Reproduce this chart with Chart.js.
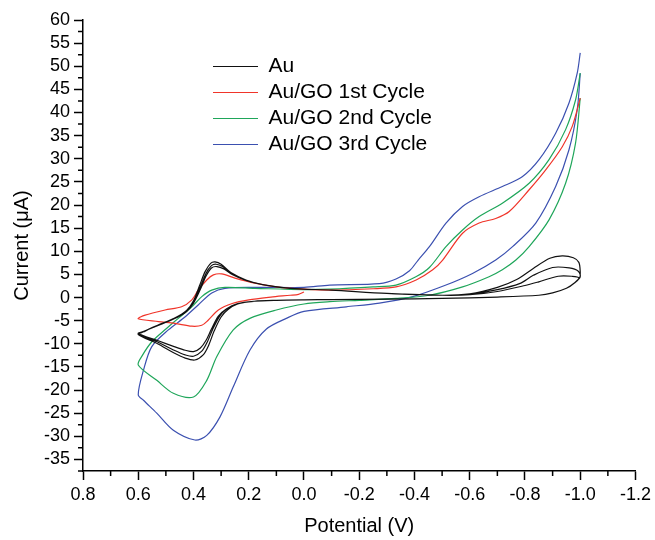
<!DOCTYPE html>
<html>
<head>
<meta charset="utf-8">
<script src="https://cdn.jsdelivr.net/npm/chart.js@4.4.1/dist/chart.umd.min.js"></script>
<style>
  html, body { margin: 0; padding: 0; background: #fff; }
  #wrap { width: 655px; height: 540px; }
</style>
</head>
<body>
<div id="wrap"><canvas id="cv"></canvas></div>
<script>
// Au, three cycles (potential in V, current in uA)
const au1V = [0.0, 0.1, 0.18, 0.24, 0.28, 0.31, 0.335, 0.355, 0.375, 0.40, 0.43, 0.47, 0.53, 0.6,
  0.58, 0.53, 0.47, 0.425, 0.40, 0.375, 0.355, 0.335, 0.315, 0.29, 0.26, 0.21, 0.15, 0.05, -0.1, -0.3, -0.5,
  -0.6, -0.7, -0.8, -0.85, -0.92, -0.97, -0.995, -0.98, -0.95, -0.9, -0.85, -0.7, -0.5, -0.3, -0.1];
const au1I = [-0.5, -0.6, -0.8, -1.3, -2.4, -4.0, -6.8, -9.3, -10.9, -11.7, -11.4, -10.6, -9.3, -7.8,
  -7.3, -6.1, -4.6, -3.0, -1.2, 1.8, 4.6, 6.4, 6.7, 6.2, 5.0, 3.7, 2.8, 2.0, 1.6, 0.9, 0.5,
  0.6, 1.3, 2.6, 3.4, 4.6, 4.6, 4.3, 3.2, 2.0, 1.0, 0.5, 0.1, -0.2, -0.35, -0.45];

const au2V = [0.0, 0.1, 0.18, 0.24, 0.28, 0.305, 0.33, 0.35, 0.37, 0.40, 0.43, 0.47, 0.53, 0.6,
  0.58, 0.53, 0.47, 0.425, 0.40, 0.375, 0.355, 0.335, 0.318, 0.295, 0.26, 0.21, 0.15, 0.05, -0.1, -0.3, -0.5,
  -0.6, -0.7, -0.78, -0.83, -0.9, -0.96, -0.993, -1.0, -0.98, -0.95, -0.9, -0.85, -0.7, -0.5, -0.3, -0.1];
const au2I = [-0.5, -0.6, -0.8, -1.3, -2.5, -4.0, -6.8, -9.6, -11.6, -12.7, -12.4, -11.4, -9.6, -7.9,
  -7.3, -6.0, -4.5, -2.9, -0.9, 2.3, 5.2, 6.9, 7.2, 6.7, 5.2, 3.8, 2.8, 2.0, 1.6, 0.9, 0.5,
  0.7, 1.7, 3.0, 4.8, 6.5, 6.4, 5.7, 4.5, 3.2, 2.0, 1.0, 0.5, 0.1, -0.2, -0.35, -0.45];

const au3V = [0.0, 0.1, 0.18, 0.24, 0.275, 0.30, 0.325, 0.345, 0.365, 0.395, 0.43, 0.47, 0.53, 0.6,
  0.58, 0.53, 0.47, 0.425, 0.40, 0.378, 0.358, 0.338, 0.322, 0.30, 0.265, 0.21, 0.15, 0.05, -0.1, -0.3, -0.5,
  -0.6, -0.7, -0.77, -0.83, -0.89, -0.935, -0.975, -0.995, -1.0, -0.998, -0.98, -0.95, -0.9, -0.85, -0.7, -0.5, -0.3, -0.1, 0.0];
const au3I = [-0.5, -0.6, -0.8, -1.4, -2.6, -4.2, -7.2, -10.3, -12.4, -13.5, -13.1, -12.0, -10.0, -8.0,
  -7.4, -6.0, -4.5, -2.8, -0.7, 2.6, 5.6, 7.4, 7.7, 7.2, 5.4, 3.8, 2.8, 2.0, 1.6, 0.9, 0.5,
  0.8, 2.2, 3.9, 6.3, 8.5, 9.0, 8.6, 7.6, 5.5, 4.3, 3.2, 2.0, 1.0, 0.5, 0.1, -0.2, -0.35, -0.45, -0.5];

// Au/GO 1st cycle
const go1V = [0.0, 0.02, 0.05, 0.12, 0.2, 0.26, 0.31, 0.347, 0.37, 0.406, 0.467, 0.527, 0.6,
  0.575, 0.503, 0.443, 0.406, 0.383, 0.352, 0.328, 0.298, 0.25, 0.178, 0.1, 0.0, -0.1, -0.25, -0.333,
  -0.406, -0.466, -0.502, -0.574, -0.634, -0.694, -0.743, -0.815, -0.875, -0.935, -0.971, -1.0];
const go1I = [1.2, 0.7, 0.5, 0.1, -0.5, -1.3, -2.7, -4.9, -6.0, -6.2, -5.6, -5.2, -4.6,
  -3.8, -2.7, -2.0, -0.5, 1.6, 3.8, 4.9, 5.1, 4.2, 3.1, 2.3, 1.8, 1.6, 1.9, 2.3,
  3.8, 6.0, 8.1, 13.9, 16.1, 17.1, 18.6, 23.3, 27.6, 32.6, 37.0, 43.1];

// Au/GO 2nd cycle
const go2V = [-1.0, -0.983, -0.947, -0.887, -0.815, -0.767, -0.718, -0.67, -0.574, -0.454, -0.333, -0.2, -0.093,
  0.0, 0.1, 0.196, 0.256, 0.316, 0.352, 0.4, 0.473, 0.533, 0.6,
  0.585, 0.55, 0.5, 0.455, 0.406, 0.37, 0.334, 0.286, 0.178, 0.0, -0.093, -0.25, -0.333, -0.405,
  -0.454, -0.514, -0.574, -0.634, -0.718, -0.815, -0.887, -0.947, -0.983, -1.0];
const go2I = [43.1, 33.4, 24.7, 16.8, 11.0, 8.1, 6.0, 4.5, 2.3, 0.5, -0.2, -0.6, -0.9,
  -1.4, -2.7, -4.5, -7.0, -12.8, -17.9, -21.5, -20.7, -17.9, -14.6,
  -12.5, -9.5, -6.8, -4.5, -2.0, 0.2, 1.6, 2.2, 2.0, 1.7, 1.8, 2.3, 2.7, 4.5,
  6.5, 11.0, 14.6, 17.5, 20.4, 24.7, 29.8, 36.3, 42.7, 48.5];

// Au/GO 3rd cycle
const go3V = [-1.0, -0.989, -0.959, -0.911, -0.839, -0.755, -0.694, -0.61, -0.514, -0.394, -0.273, -0.153,
  0.0, 0.064, 0.136, 0.196, 0.256, 0.304, 0.352, 0.395, 0.473, 0.533, 0.581, 0.6,
  0.581, 0.551, 0.491, 0.431, 0.383, 0.334, 0.286, 0.178, 0.0, -0.093, -0.273, -0.333, -0.382,
  -0.412, -0.454, -0.514, -0.574, -0.634, -0.718, -0.79, -0.851, -0.911, -0.959, -0.989, -1.0];
const go3I = [48.5, 40.6, 31.9, 24.0, 16.1, 11.0, 8.1, 5.2, 2.7, 0.2, -1.2, -2.0,
  -3.0, -4.5, -6.8, -11.4, -19.3, -25.8, -29.8, -30.8, -28.7, -25.0, -22.2, -21.0,
  -15.7, -10.6, -7.0, -4.2, -1.6, 1.0, 2.0, 2.2, 2.2, 2.7, 3.0, 4.0, 5.8,
  8.0, 11.0, 16.1, 19.7, 21.8, 24.0, 26.1, 29.8, 35.5, 42.0, 48.5, 52.9];

const seriesNames = ['Au', 'Au/GO 1st Cycle', 'Au/GO 2nd Cycle', 'Au/GO 3rd Cycle'];
const seriesColors = ['#111111', '#f0352a', '#1fa65a', '#3b50b0'];

function pts(vs, is) {
  return vs.map((v, k) => ({x: v, y: is[k]}));
}

const auPts = pts(au1V, au1I).concat(pts(au2V, au2I), pts(au3V, au3I));
const allPts = [auPts, pts(go1V, go1I), pts(go2V, go2I), pts(go3V, go3I)];

const isMajorX = v => Math.round(v * 10) % 2 === 0;
const isMajorY = v => Math.round(v * 2) % 10 === 0;

// short minor ticks, and the legend placed inside the plot
const minorTicks = {
  id: 'minorTicks',
  beforeDraw(chart) {
    const lg = chart.legend;
    if (lg) { lg.left = 208; lg.top = 51; }
  },
  afterDraw(chart) {
    const ctx = chart.ctx;
    const xs = chart.scales.x, ys = chart.scales.y;
    ctx.save();
    ctx.strokeStyle = '#000';
    ctx.lineWidth = 1.5;
    ctx.beginPath();
    xs.ticks.forEach(t => {
      if (isMajorX(t.value)) return;
      const px = xs.getPixelForValue(t.value);
      ctx.moveTo(px, xs.top);
      ctx.lineTo(px, xs.top + 5);
    });
    ys.ticks.forEach(t => {
      if (isMajorY(t.value)) return;
      const py = ys.getPixelForValue(t.value);
      ctx.moveTo(ys.right, py);
      ctx.lineTo(ys.right - 5, py);
    });
    ctx.stroke();
    ctx.restore();
  }
};

Chart.defaults.font.family = "'Liberation Sans', Arial, sans-serif";
Chart.defaults.color = '#000';

new Chart(document.getElementById('cv'), {
  type: 'scatter',
  data: {
    datasets: allPts.map((d, k) => ({
      label: seriesNames[k],
      data: d,
      showLine: true,
      borderColor: seriesColors[k],
      backgroundColor: seriesColors[k],
      borderWidth: 1.2,
      pointRadius: 0,
      tension: 0.3
    }))
  },
  options: {
    responsive: true,
    maintainAspectRatio: false,
    animation: false,
    layout: { padding: { left: 0, right: 18, top: 20, bottom: 0 } },
    plugins: {
      tooltip: { enabled: false },
      legend: {
        position: 'chartArea',
        align: 'start',
        labels: {
          usePointStyle: true,
          pointStyle: 'line',
          pointStyleWidth: 45,
          padding: 5,
          font: { size: 21 },
          color: '#000'
        }
      }
    },
    scales: {
      x: {
        type: 'linear',
        reverse: true,
        min: -1.2,
        max: 0.8,
        afterFit(s) { s.height = 69; },
        border: { color: '#000', width: 1.5 },
        grid: {
          drawOnChartArea: false,
          tickLength: 9,
          tickWidth: 1.5,
          tickColor: c => (c.tick && isMajorX(c.tick.value)) ? '#000' : 'rgba(0,0,0,0)'
        },
        ticks: {
          stepSize: 0.1,
          autoSkip: false,
          maxRotation: 0,
          padding: 4,
          font: { size: 18 },
          callback: v => isMajorX(v) ? v.toFixed(1) : ''
        },
        title: {
          display: true,
          text: 'Potential (V)',
          font: { size: 20 },
          padding: { top: 0, bottom: 2 }
        }
      },
      y: {
        type: 'linear',
        min: -37.5,
        max: 60,
        afterFit(s) { s.width = 83; },
        border: { color: '#000', width: 1.5 },
        grid: {
          drawOnChartArea: false,
          tickLength: 9,
          tickWidth: 1.5,
          tickColor: c => (c.tick && isMajorY(c.tick.value)) ? '#000' : 'rgba(0,0,0,0)'
        },
        ticks: {
          stepSize: 2.5,
          autoSkip: false,
          padding: 4,
          font: { size: 18 },
          callback: v => isMajorY(v) ? String(v) : ''
        },
        title: {
          display: true,
          text: 'Current (\u03bcA)',
          font: { size: 20 },
          padding: { top: 10, bottom: 0 }
        }
      }
    }
  },
  plugins: [minorTicks]
});
</script>
</body>
</html>
